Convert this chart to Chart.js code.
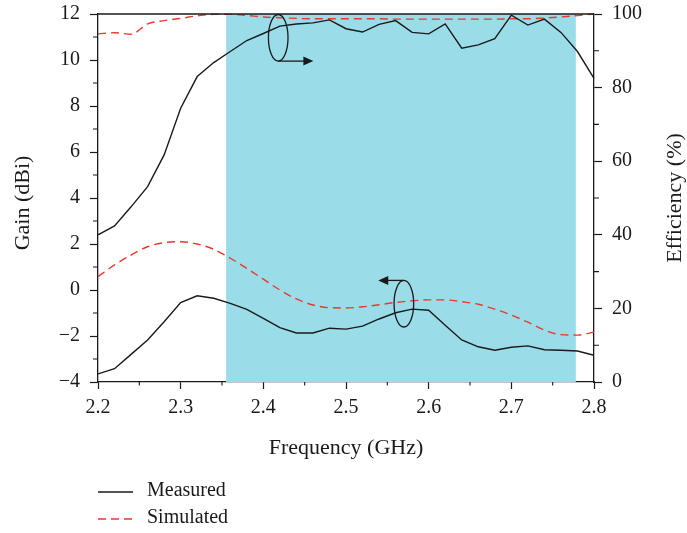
<!DOCTYPE html>
<html>
<head>
<meta charset="utf-8">
<title>Gain and efficiency versus frequency</title>
<script src="https://cdn.jsdelivr.net/npm/chart.js@4/dist/chart.umd.min.js"></script>
<style>
  html, body { margin: 0; padding: 0; background: #ffffff; }
  #wrap { width: 687px; height: 533px; }
</style>
</head>
<body>
<div id="wrap"><canvas id="chart" width="687" height="533"></canvas></div>
<script>
// Frequency samples (GHz)
const freq = [2.20, 2.22, 2.24, 2.26, 2.28, 2.30, 2.32, 2.34, 2.36, 2.38,
              2.40, 2.42, 2.44, 2.46, 2.48, 2.50, 2.52, 2.54, 2.56, 2.58,
              2.60, 2.62, 2.64, 2.66, 2.68, 2.70, 2.72, 2.74, 2.76, 2.78, 2.80];

// Gain (dBi), left axis
const gainMeasured = [-3.65, -3.42, -2.80, -2.17, -1.38, -0.55, -0.25, -0.36, -0.58, -0.84,
                      -1.23, -1.64, -1.87, -1.87, -1.66, -1.70, -1.57, -1.26, -0.99, -0.83,
                      -0.88, -1.53, -2.17, -2.47, -2.62, -2.49, -2.43, -2.60, -2.62, -2.65, -2.84];
const gainSimulated = [0.58, 1.09, 1.52, 1.88, 2.06, 2.10, 2.00, 1.77, 1.38, 0.94,
                       0.47, 0.00, -0.39, -0.65, -0.77, -0.78, -0.73, -0.64, -0.54, -0.47,
                       -0.43, -0.43, -0.51, -0.62, -0.83, -1.09, -1.40, -1.74, -1.94, -1.96, -1.83];

// Efficiency (%), right axis
const effMeasured = [40.0, 42.4, 47.6, 53.1, 61.7, 74.4, 83.0, 86.8, 89.8, 92.8,
                     94.7, 96.7, 97.3, 97.6, 98.4, 96.0, 95.1, 97.2, 98.2, 95.0,
                     94.6, 97.3, 90.7, 91.6, 93.3, 99.7, 97.0, 98.6, 95.0, 89.8, 82.5];
const effSimulated = [94.6, 94.9, 94.5, 97.3, 98.2, 98.8, 99.5, 99.9, 99.9, 99.6,
                      99.2, 99.0, 98.8, 98.7, 98.7, 98.7, 98.7, 98.7, 98.6, 98.6,
                      98.6, 98.6, 98.6, 98.6, 98.6, 98.7, 98.7, 98.9, 99.2, 99.6, 100.0];

// Axis ranges and ticks
const xTicks = [2.2, 2.3, 2.4, 2.5, 2.6, 2.7, 2.8];
const gainTicks = [-4, -2, 0, 2, 4, 6, 8, 10, 12];
const effTicks = [0, 20, 40, 60, 80, 100];

// Operating band (GHz)
const bandRange = [2.355, 2.778];

// Curve markers: ellipse centre (GHz, dBi) and arrow tip frequency
const effMarker = { x: 2.418, y: 10.965, tipX: 2.4605 };
const gainMarker = { x: 2.570, y: -0.596, tipX: 2.539 };

const legendItems = ['Measured', 'Simulated'];

const INK = '#1a1a1a';
const RED = '#e8392e';
const BAND = '#9adde9';
const SERIF = "'Liberation Serif', 'Times New Roman', serif";

const toPts = (vals) => vals.map((v, i) => ({ x: freq[i], y: v }));

// Shaded band behind the curves
const bandPlugin = {
  id: 'band',
  beforeDatasetsDraw(chart) {
    const { ctx, chartArea: a, scales: { x } } = chart;
    const x0 = x.getPixelForValue(bandRange[0]);
    const x1 = x.getPixelForValue(bandRange[1]);
    ctx.save();
    ctx.fillStyle = BAND;
    ctx.fillRect(x0, a.top, x1 - x0, a.bottom - a.top);
    ctx.restore();
  }
};

// Frame line on top, minor ticks, axis titles, curve markers, legend
const decorPlugin = {
  id: 'decor',
  afterDraw(chart) {
    const { ctx, chartArea: a, scales: { x, y, y1 } } = chart;
    ctx.save();
    ctx.strokeStyle = INK;
    ctx.lineWidth = 1.3;
    // top frame
    ctx.beginPath();
    ctx.moveTo(a.left, a.top);
    ctx.lineTo(a.right, a.top);
    ctx.stroke();

    // minor ticks
    ctx.lineWidth = 1.1;
    ctx.beginPath();
    for (let k = 0; k < xTicks.length - 1; k++) {
      const px = x.getPixelForValue((xTicks[k] + xTicks[k + 1]) / 2);
      ctx.moveTo(px, a.bottom);
      ctx.lineTo(px, a.bottom + 3.5);
    }
    for (let k = 0; k < gainTicks.length - 1; k++) {
      const py = y.getPixelForValue((gainTicks[k] + gainTicks[k + 1]) / 2);
      ctx.moveTo(a.left, py);
      ctx.lineTo(a.left - 5, py);
    }
    for (let k = 0; k < effTicks.length - 1; k++) {
      const py = y1.getPixelForValue((effTicks[k] + effTicks[k + 1]) / 2);
      ctx.moveTo(a.right, py);
      ctx.lineTo(a.right + 5, py);
    }
    ctx.stroke();

    // axis titles
    ctx.fillStyle = INK;
    ctx.font = '22px ' + SERIF;
    ctx.textAlign = 'center';
    ctx.textBaseline = 'middle';
    ctx.fillText('Frequency (GHz)', (a.left + a.right) / 2, 448);
    ctx.save();
    ctx.translate(23, 203);
    ctx.rotate(-Math.PI / 2);
    ctx.fillText('Gain (dBi)', 0, 0);
    ctx.restore();
    ctx.save();
    ctx.translate(675, 198);
    ctx.rotate(-Math.PI / 2);
    ctx.fillText('Efficiency (%)', 0, 0);
    ctx.restore();

    // curve markers: ellipse with an arrow toward the matching axis
    const marker = (m, fromTop) => {
      const cx = x.getPixelForValue(m.x);
      const cy = y.getPixelForValue(m.y);
      const rx = 9.8, ry = 23.3;
      const tip = x.getPixelForValue(m.tipX);
      const ay = fromTop ? cy - ry : cy + ry;
      const dir = Math.sign(tip - cx);
      ctx.lineWidth = 1.3;
      ctx.beginPath();
      ctx.ellipse(cx, cy, rx, ry, 0, 0, Math.PI * 2);
      ctx.stroke();
      ctx.beginPath();
      ctx.moveTo(cx, ay);
      ctx.lineTo(tip - dir * 9, ay);
      ctx.stroke();
      ctx.beginPath();
      ctx.moveTo(tip, ay);
      ctx.lineTo(tip - dir * 10, ay - 4.5);
      ctx.lineTo(tip - dir * 10, ay + 4.5);
      ctx.closePath();
      ctx.fill();
    };
    marker(effMarker, false);
    marker(gainMarker, true);

    // legend
    ctx.textAlign = 'left';
    ctx.textBaseline = 'middle';
    ctx.font = '20px ' + SERIF;
    const rows = [
      { y: 492, color: INK, dash: [] },
      { y: 519, color: RED, dash: [8, 5] }
    ];
    rows.forEach((r, i) => {
      ctx.strokeStyle = r.color;
      ctx.lineWidth = 1.3;
      ctx.setLineDash(r.dash);
      ctx.beginPath();
      ctx.moveTo(98, r.y);
      ctx.lineTo(133, r.y);
      ctx.stroke();
      ctx.setLineDash([]);
      ctx.fillStyle = INK;
      ctx.fillText(legendItems[i], 147, r.y - 1);
    });
    ctx.restore();
  }
};

const tickFont = { family: SERIF, size: 20 };

// Fixed scale sizes; label overflow is not reserved so the plot frame stays put
const fitY = (w) => (s) => { s.width = w; s.paddingTop = 0; s.paddingBottom = 0; };

new Chart(document.getElementById('chart'), {
  type: 'line',
  data: {
    datasets: [
      { label: 'Measured gain', data: toPts(gainMeasured), yAxisID: 'y',
        borderColor: INK, borderWidth: 1.4, pointRadius: 0, tension: 0, fill: false },
      { label: 'Simulated gain', data: toPts(gainSimulated), yAxisID: 'y',
        borderColor: RED, borderWidth: 1.4, borderDash: [8, 5], pointRadius: 0,
        tension: 0.4, cubicInterpolationMode: 'monotone', fill: false },
      { label: 'Measured efficiency', data: toPts(effMeasured), yAxisID: 'y1',
        borderColor: INK, borderWidth: 1.4, pointRadius: 0, tension: 0, fill: false, clip: 4 },
      { label: 'Simulated efficiency', data: toPts(effSimulated), yAxisID: 'y1',
        borderColor: RED, borderWidth: 1.4, borderDash: [8, 5], pointRadius: 0,
        tension: 0.4, cubicInterpolationMode: 'monotone', fill: false, clip: 4 }
    ]
  },
  options: {
    responsive: false,
    animation: false,
    events: [],
    layout: { padding: { top: 14, left: 0, right: 0, bottom: 0 } },
    plugins: { legend: { display: false }, tooltip: { enabled: false } },
    scales: {
      x: {
        type: 'linear', min: 2.2, max: 2.8,
        afterBuildTicks: (s) => { s.ticks = xTicks.map(v => ({ value: v })); },
        afterFit: (s) => { s.height = 151; s.paddingLeft = 0; s.paddingRight = 0; },
        ticks: { font: tickFont, color: INK, padding: 7, maxRotation: 0,
                 callback: (v) => Number(v).toFixed(1) },
        grid: { drawOnChartArea: false, tickLength: 7, color: INK, tickWidth: 1.2 },
        border: { display: true, color: INK, width: 1.3 }
      },
      y: {
        type: 'linear', position: 'left', min: -4, max: 12,
        afterBuildTicks: (s) => { s.ticks = gainTicks.map(v => ({ value: v })); },
        afterFit: fitY(98),
        ticks: { font: tickFont, color: INK, padding: 10,
                 callback: (v) => (v < 0 ? '\u2212' + Math.abs(v) : String(v)) },
        grid: { drawOnChartArea: false, tickLength: 8, color: INK, tickWidth: 1.2 },
        border: { display: true, color: INK, width: 1.3 }
      },
      y1: {
        type: 'linear', position: 'right', min: 0, max: 100,
        afterBuildTicks: (s) => { s.ticks = effTicks.map(v => ({ value: v })); },
        afterFit: fitY(93),
        ticks: { font: tickFont, color: INK, padding: 10 },
        grid: { drawOnChartArea: false, tickLength: 8, color: INK, tickWidth: 1.2 },
        border: { display: true, color: INK, width: 1.3 }
      }
    }
  },
  plugins: [bandPlugin, decorPlugin]
});
</script>
</body>
</html>
